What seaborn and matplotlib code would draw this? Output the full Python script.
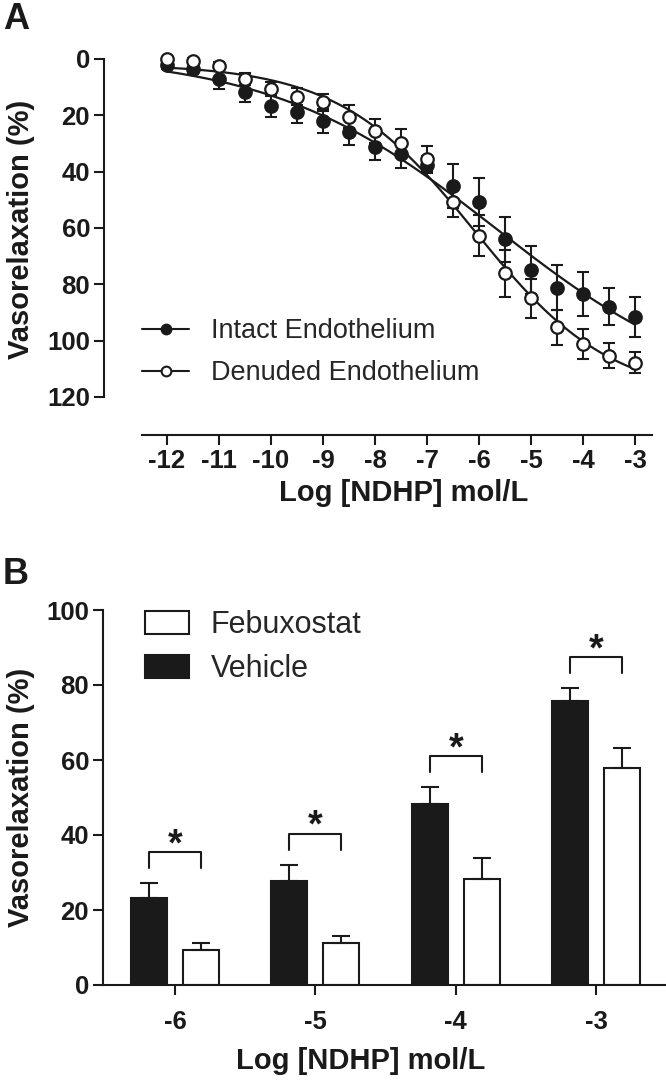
import numpy as np
import pandas as pd
import seaborn as sns
import matplotlib.pyplot as plt
from matplotlib.lines import Line2D
from matplotlib.patches import Patch

sns.set_style('ticks')
plt.rcParams['font.family'] = ['Liberation Sans', 'DejaVu Sans']
plt.rcParams['axes.unicode_minus'] = False

# %% panel A data: concentration-response (mean, SEM)
log_conc = [-12, -11.5, -11, -10.5, -10, -9.5, -9, -8.5, -8, -7.5,
            -7, -6.5, -6, -5.5, -5, -4.5, -4, -3.5, -3]
intact_mean = [2.0, 3.5, 7.0, 11.6, 16.6, 18.7, 22.0, 25.8, 31.1, 33.9,
               37.5, 45.2, 50.9, 64.0, 74.8, 81.2, 83.5, 87.9, 91.7]
intact_sem = [1.5, 2.0, 3.7, 3.8, 3.9, 3.9, 4.1, 4.8, 4.7, 4.7,
              3.0, 7.8, 8.5, 8.0, 8.5, 8.0, 7.7, 6.7, 7.1]
denuded_mean = [0.0, 0.6, 2.4, 7.1, 10.8, 13.4, 15.4, 20.5, 25.6, 29.9,
                35.4, 50.9, 62.8, 76.1, 85.0, 95.3, 101.2, 105.4, 107.8]
denuded_sem = [0.8, 1.0, 1.5, 2.0, 2.5, 3.0, 3.0, 4.1, 4.3, 4.9,
               4.5, 5.1, 7.3, 8.3, 7.0, 6.1, 5.2, 4.4, 3.6]

# %% panel B data
conc_b = ['-6', '-5', '-4', '-3']
vehicle_mean = [23.3, 27.8, 48.3, 75.8]
vehicle_sem = [3.8, 4.2, 4.4, 3.3]
febux_mean = [9.3, 11.3, 28.4, 57.8]
febux_sem = [2.0, 1.9, 5.6, 5.3]

ink = '#1a1a1a'


def fit_sigmoid(x, y):
    # variable slope 4PL, least squares by grid over logEC50 / hill
    x = np.asarray(x, float)
    y = np.asarray(y, float)
    best = None
    for h in np.arange(0.15, 1.2, 0.005):
        for c in np.arange(-9.5, -3.5, 0.01):
            s = 1 / (1 + 10 ** ((c - x) * h))
            A = np.column_stack([1 - s, s])
            coef, res, _, _ = np.linalg.lstsq(A, y, rcond=None)
            r = np.sum((A @ coef - y) ** 2)
            if best is None or r < best[0]:
                best = (r, coef[0], coef[1], c, h)
    _, b, t, c, h = best
    return lambda xx: b + (t - b) / (1 + 10 ** ((c - xx) * h))


fig = plt.figure(figsize=(6.66, 10.8), dpi=100)
W, H = 666, 1080

# %% panel A
axA = fig.add_axes([104 / W, 1 - 435 / H, (652 - 104) / W, (435 - 59) / H])
xx = np.linspace(-12, -3, 300)
for mean, sem, face in [(intact_mean, intact_sem, ink), (denuded_mean, denuded_sem, 'white')]:
    f = fit_sigmoid(log_conc, mean)
    sns.lineplot(x=xx, y=f(xx), color=ink, lw=1.6, ax=axA)
    axA.errorbar(log_conc, mean, yerr=sem, fmt='none', ecolor=ink, elinewidth=1.5,
                 capsize=4.5, capthick=1.5, clip_on=False, zorder=3)
    axA.plot(log_conc, mean, 'o', ms=9, mfc=face, mec=ink, mew=1.6, ls='none',
             clip_on=False, zorder=4)

axA.set_xlim((104 - 167) / 52 - 12, (652 - 167) / 52 - 12)
axA.set_ylim(133.5, 0)
axA.set_yticks(range(0, 121, 20))
axA.set_xticks(range(-12, -2))
axA.spines['left'].set_bounds(0, 120)
axA.spines['bottom'].set_bounds(-12.48, axA.get_xlim()[1])
sns.despine(ax=axA)

handlesA = [Line2D([], [], color=ink, lw=1.5, marker='o', ms=7, mfc=ink, mec=ink, mew=1.5),
            Line2D([], [], color=ink, lw=1.5, marker='o', ms=7, mfc='white', mec=ink, mew=1.5)]
axA.legend(handlesA, ['Intact Endothelium', 'Denuded Endothelium'], loc='upper left',
           bbox_to_anchor=(0.069, 0.311), frameon=False, fontsize=19.5,
           handlelength=1.75, handletextpad=0.8, labelspacing=0.6, borderpad=0,
           borderaxespad=0)

# %% panel B
axB = fig.add_axes([103 / W, 1 - 985 / H, (666 - 103) / W, (985 - 610) / H])
dfB = pd.DataFrame({
    'conc': conc_b * 2,
    'value': vehicle_mean + febux_mean,
    'group': ['Vehicle'] * 4 + ['Febuxostat'] * 4,
})
sns.barplot(data=dfB, x='conc', y='value', hue='group', order=conc_b,
            hue_order=['Vehicle', 'Febuxostat'],
            palette={'Vehicle': ink, 'Febuxostat': 'white'},
            edgecolor=ink, linewidth=1.5, width=0.74, gap=0.31,
            errorbar=None, legend=False, ax=axB)

bar_x = []
for cont, mean, sem in zip(axB.containers, [vehicle_mean, febux_mean], [vehicle_sem, febux_sem]):
    xs = [p.get_x() + p.get_width() / 2 for p in cont]
    bar_x.append(xs)
    axB.errorbar(xs, mean, yerr=[np.zeros(4), sem], fmt='none', ecolor=ink,
                 elinewidth=1.5, capsize=6.5, capthick=1.5, zorder=1)

# significance brackets
for i in range(4):
    top = vehicle_mean[i] + vehicle_sem[i] + 8.3
    x0, x1 = bar_x[0][i], bar_x[1][i]
    axB.plot([x0, x0, x1, x1], [top - 4.2, top, top, top - 4.2], color=ink, lw=1.5,
             clip_on=False)
    axB.text((x0 + x1) / 2, top - 0.8, '*', ha='center', va='baseline', fontsize=27,
             fontweight='bold', color=ink)

axB.set_xlim(-0.512, 3.498)
axB.set_ylim(0, 100)
axB.set_yticks(range(0, 101, 20))
sns.despine(ax=axB)

handlesB = [Patch(facecolor='white', edgecolor=ink, lw=1.5),
            Patch(facecolor=ink, edgecolor=ink, lw=1.5)]
axB.legend(handlesB, ['Febuxostat', 'Vehicle'], loc='upper left',
           bbox_to_anchor=(0.0746, 1.0), frameon=False, fontsize=22,
           handlelength=1.45, handleheight=0.8, handletextpad=0.7,
           labelspacing=0.46, borderpad=0, borderaxespad=0)

# %% shared styling
for ax in (axA, axB):
    for s in ax.spines.values():
        s.set_linewidth(1.5)
        s.set_color(ink)
    ax.tick_params(direction='out', length=7, width=1.5, color=ink, pad=3,
                   labelsize=18.5, labelcolor=ink)
    for lab in ax.get_xticklabels() + ax.get_yticklabels():
        lab.set_fontweight('bold')
    ax.set_xlabel('Log [NDHP] mol/L', fontsize=21, fontweight='bold', color=ink)
    ax.set_ylabel('Vasorelaxation (%)', fontsize=21, fontweight='bold', color=ink)

axB.tick_params(axis='x', pad=11)

axA.yaxis.set_label_coords(-0.126, 0.547)
axA.xaxis.set_label_coords(0.547, -0.116)
axB.yaxis.set_label_coords(-0.121, 0.5)
axB.xaxis.set_label_coords(0.458, -0.165)

fig.text(3 / W, 1 - 2 / H, 'A', fontsize=26, fontweight='bold', va='top', color=ink)
fig.text(3 / W, 1 - 557 / H, 'B', fontsize=26, fontweight='bold', va='top', color=ink)

fig.savefig('out.png', dpi=100)
